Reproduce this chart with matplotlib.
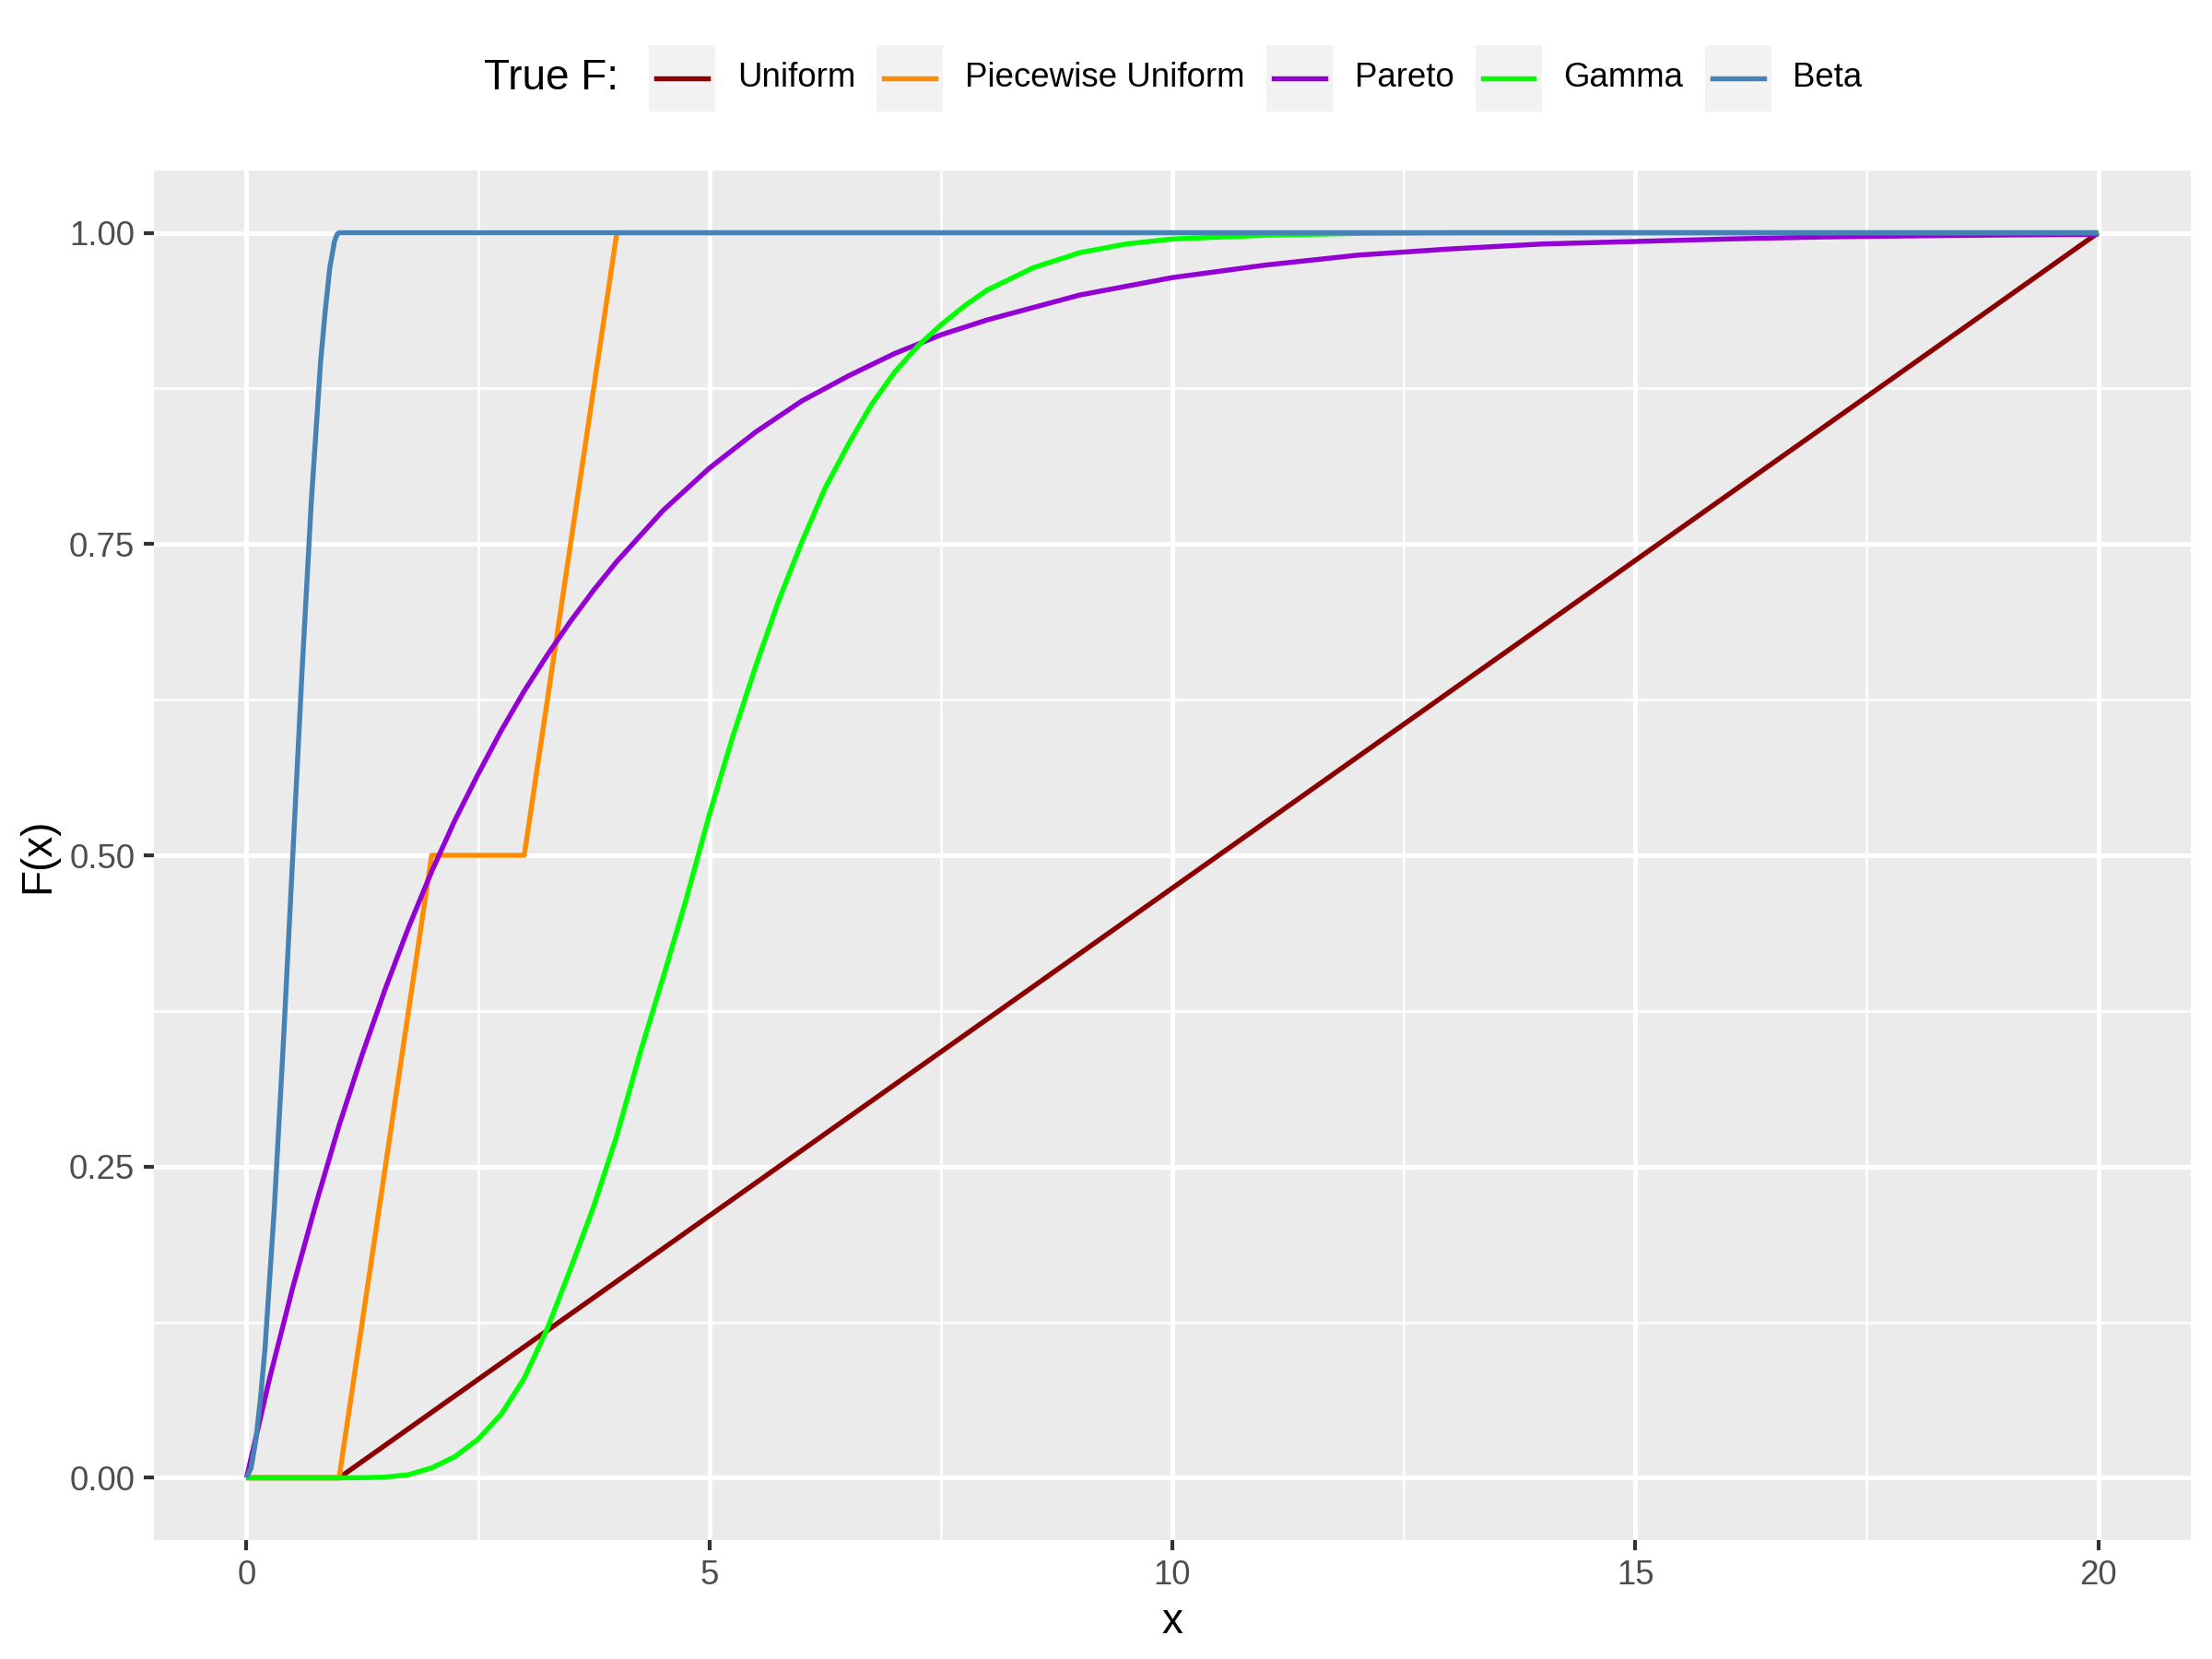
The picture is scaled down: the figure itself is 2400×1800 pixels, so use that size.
import numpy as np
import matplotlib.pyplot as plt
from matplotlib.patches import Rectangle
from matplotlib.lines import Line2D

plt.rcParams['font.family'] = ['Liberation Sans', 'DejaVu Sans']

names = ["Uniform", "Piecewise Uniform", "Pareto", "Gamma", "Beta"]
colors = ["#8B0000", "#FF8C00", "#9400D3", "#00FF00", "#4682B4"]

# values
uniform_x = [0, 1, 20]
uniform_f = [0, 0, 1]

piecewise_x = [0, 1, 2, 3, 4, 20]
piecewise_f = [0, 0, 0.5, 0.5, 1, 1]

pareto_x = [0, 0.25, 0.5, 0.75, 1.0, 1.25, 1.5, 1.75, 2.0, 2.25, 2.5, 2.75, 3.0, 3.25,
            3.5, 3.75, 4.0, 4.5, 5.0, 5.5, 6.0, 6.5, 7.0, 7.5, 8.0, 9.0, 10, 11, 12,
            13, 14, 15, 16, 17, 18, 19, 20]
pareto_f = [0, 0.08, 0.153, 0.22, 0.283, 0.34, 0.393, 0.442, 0.487, 0.528, 0.565, 0.6, 0.632, 0.661,
            0.688, 0.713, 0.736, 0.777, 0.811, 0.84, 0.865, 0.885, 0.903, 0.918, 0.93, 0.95, 0.964, 0.974, 0.982,
            0.987, 0.991, 0.993, 0.995, 0.9966, 0.9975, 0.9982, 0.9987]

gamma_x = [0, 1, 1.25, 1.5, 1.75, 2.0, 2.25, 2.5, 2.75, 3.0, 3.25, 3.5, 3.75, 4.0, 4.25,
           4.5, 4.75, 5.0, 5.25, 5.5, 5.75, 6.0, 6.25, 6.5, 6.75, 7.0, 7.25, 7.5, 7.75,
           8.0, 8.5, 9.0, 9.5, 10, 11, 12, 13, 20]
gamma_f = [0, 0, 0.0001, 0.0006, 0.0025, 0.008, 0.017, 0.031, 0.051, 0.08, 0.12, 0.168, 0.218, 0.275, 0.341,
           0.402, 0.465, 0.533, 0.595, 0.652, 0.705, 0.752, 0.795, 0.83, 0.862, 0.888, 0.909, 0.926, 0.941,
           0.954, 0.972, 0.984, 0.991, 0.995, 0.998, 0.9995, 1.0, 1.0]

beta_x = [0, 0.05, 0.1, 0.15, 0.2, 0.3, 0.4, 0.5, 0.6, 0.7, 0.8, 0.85, 0.9, 0.95, 0.98, 1.0, 20]
beta_f = [0, 0.008, 0.03, 0.063, 0.104, 0.216, 0.352, 0.5, 0.648, 0.784, 0.896, 0.937, 0.972, 0.993, 0.999, 1.0, 1.0]

series_x = [uniform_x, piecewise_x, pareto_x, gamma_x, beta_x]
series_f = [uniform_f, piecewise_f, pareto_f, gamma_f, beta_f]

W, H = 2400, 1800
fig = plt.figure(figsize=(8, 6), dpi=300)
ax = fig.add_axes([167 / W, 1 - 1671 / H, (2377 - 167) / W, (1671 - 185) / H])
ax.set_facecolor("#EBEBEB")
for s in ax.spines.values():
    s.set_visible(False)

ax.set_xlim(-1, 21)
ax.set_ylim(-0.05, 1.05)
ax.set_xticks([0, 5, 10, 15, 20])
ax.set_xticks(np.arange(2.5, 20, 5), minor=True)
ax.set_yticks([0, 0.25, 0.5, 0.75, 1])
ax.set_yticklabels(["0.00", "0.25", "0.50", "0.75", "1.00"])
ax.set_yticks(np.arange(0.125, 1, 0.25), minor=True)
ax.grid(which="major", color="white", lw=1.2)
ax.grid(which="minor", color="white", lw=0.6)
ax.set_axisbelow(True)
ax.tick_params(which="major", length=2.75, width=1.0, color="#333333",
               labelsize=8.8, labelcolor="#4D4D4D", pad=2.2)
ax.tick_params(which="minor", length=0)
ax.set_xlabel("x", fontsize=11, labelpad=2.75)
ax.set_ylabel("F(x)", fontsize=11, labelpad=2.75)

for xs, fs, c in zip(series_x, series_f, colors):
    ax.plot(xs, fs, color=c, lw=1.3, solid_capstyle="butt", solid_joinstyle="round")

# legend on top, built by hand so keys get the grey ggplot boxes
def fx(px):
    return px / W

def fy(py):
    return 1 - py / H

yc = 85
fig.text(fx(525), fy(yc), "True F:", fontsize=11, va="center", ha="left")
renderer = fig.canvas.get_renderer()
x = 704
for name, c in zip(names, colors):
    fig.patches.append(Rectangle((fx(x), fy(yc + 36)), fx(72), 72 / H,
                                 transform=fig.transFigure, facecolor="#F2F2F2",
                                 edgecolor="none"))
    fig.lines.append(Line2D([fx(x + 8), fx(x + 64)], [fy(yc), fy(yc)],
                            transform=fig.transFigure, color=c, lw=1.3))
    t = fig.text(fx(x + 72 + 24), fy(yc), name, fontsize=8.8, va="center", ha="left")
    w = t.get_window_extent(renderer).width
    x = x + 72 + 24 + w + 23

fig.savefig("out.png", dpi=300)
